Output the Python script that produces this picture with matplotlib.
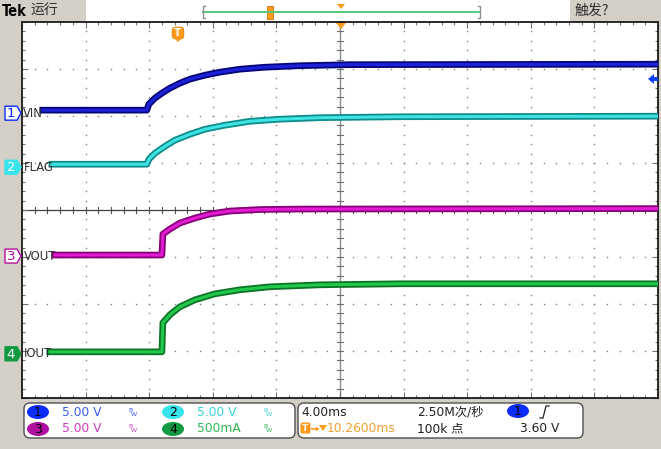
import matplotlib
matplotlib.use('Agg')
import matplotlib.pyplot as plt
import numpy as np
from matplotlib.patches import Polygon, FancyBboxPatch, Rectangle, Ellipse
import matplotlib.patheffects as pe

# ---------------- data (time in ms relative to trigger) ----------------
vin_t = [-8.43, -1.89, -1.76, -1.38, -0.94, -0.44, 0.19, 0.82, 1.76, 2.70, 3.96, 5.53, 7.74, 10.88, 30.25]
vin_v = [0.32, 0.32, 0.96, 1.60, 2.13, 2.66, 3.19, 3.62, 4.04, 4.36, 4.68, 4.89, 5.05, 5.16, 5.21]

flag_t = [-7.86, -1.89, -1.76, -1.38, -0.75, -0.13, 0.82, 1.76, 3.02, 4.59, 6.48, 8.99, 14.03, 30.25]
flag_v = [0.32, 0.32, 0.85, 1.49, 2.23, 2.87, 3.51, 4.04, 4.47, 4.89, 5.11, 5.27, 5.37, 5.43]

vout_t = [-7.67, -0.94, -0.88, -0.44, 0.19, 1.13, 2.08, 3.33, 5.22, 7.74, 30.25]
vout_v = [0.11, 0.11, 2.34, 2.87, 3.51, 4.04, 4.47, 4.79, 4.95, 5.00, 5.05]

iout_t = [-7.99, -0.94, -0.88, -0.44, 0.19, 1.13, 2.39, 3.96, 5.85, 8.99, 14.03, 30.25]
iout_a = [0.021, 0.021, 0.33, 0.415, 0.50, 0.574, 0.638, 0.681, 0.713, 0.734, 0.745, 0.745]

channel_names = ['VIN', 'FLAG', 'VOUT', 'IOUT']
channel_scales = [5.0, 5.0, 5.0, 0.5]          # units per division
channel_offsets = [6.06, 4.91, 3.02, 0.94]     # ground marker position (div)
channel_scale_labels = ['5.00 V', '5.00 V', '5.00 V', '500mA']
time_per_div = 4.0    # ms
horiz_delay = 10.26   # ms
record_rate = '2.50M次/秒'
record_len = '100k 点'
trig_level = '3.60 V'

core_cols = ['#1c22d8', '#3fe3e3', '#e21cd2', '#22c84a']
edge_cols = ['#06067a', '#0f8c8c', '#860078', '#0c7426']
text_cols = ['#3a5cf0', '#38d4dc', '#d03cc4', '#2fb44e']
fill_cols = ['#0a2cff', '#38e4ec', '#b0109f', '#129a42']

W, H = 661, 449
L, R, T, B = 22, 658, 22, 398
BG = '#d4d0c8'

fig = plt.figure(figsize=(W / 100, H / 100), dpi=100)
fig.patch.set_facecolor(BG)

CJK = ['DejaVu Sans', 'Noto Sans CJK SC']
CJK2 = ['Noto Sans CJK SC', 'DejaVu Sans']

# background layer (top bar)
bg = fig.add_axes([0, 0, 1, 1], zorder=0)
bg.set_xlim(0, W); bg.set_ylim(H, 0); bg.axis('off')
bg.add_patch(Rectangle((86, 0), 484, 21, facecolor='white', edgecolor='none'))

# ---------------- data axes ----------------
ax = fig.add_axes([L / W, 1 - B / H, (R - L) / W, (B - T) / H], zorder=1)
ax.set_xlim(0, 10); ax.set_ylim(0, 8)
ax.set_facecolor('white')
for s in ax.spines.values():
    s.set_color('#1a1a1a'); s.set_linewidth(1.3)
ax.set_xticks(np.arange(0, 10.01, 1)); ax.set_yticks(np.arange(0, 8.01, 1))
ax.set_xticks(np.arange(0, 10.01, 0.2), minor=True)
ax.set_yticks(np.arange(0, 8.01, 0.2), minor=True)
ax.tick_params(which='both', direction='in', top=True, right=True,
               labelbottom=False, labelleft=False, color='#707070')
ax.tick_params(which='major', length=4, width=0.8)
ax.tick_params(which='minor', length=2.5, width=0.8)

# graticule dots
for xv in range(1, 10):
    if xv == 5:
        continue
    ys = np.arange(0, 8.01, 0.2)
    ax.plot([xv] * len(ys), ys, ls='none', marker='s', ms=1.0, mew=0, color='#808080')
for yv in range(1, 8):
    if yv == 4:
        continue
    xs = np.arange(0, 10.01, 0.2)
    ax.plot(xs, [yv] * len(xs), ls='none', marker='s', ms=1.0, mew=0, color='#808080')

ax.axvline(5, color='#8a8a8a', lw=1.0, zorder=1)
ax.axhline(4, color='#404040', lw=0.9, zorder=1)
for yy in np.arange(0, 8.01, 0.2):
    ax.plot([4.95, 5.05], [yy, yy], color='#707070', lw=0.8)
for xx in np.arange(0, 10.01, 0.2):
    ax.plot([xx, xx], [3.94, 4.06], color='#505050', lw=0.8)

t_left = horiz_delay - 5 * time_per_div
series = [(vin_t, vin_v), (flag_t, flag_v), (vout_t, vout_v), (iout_t, iout_a)]
for i, (tt, vv) in enumerate(series):
    xd = [(t - t_left) / time_per_div for t in tt]
    yd = [channel_offsets[i] + v / channel_scales[i] for v in vv]
    ax.plot(xd, yd, color=core_cols[i], lw=2.2, solid_joinstyle='round', zorder=3,
            path_effects=[pe.Stroke(linewidth=4.8, foreground=edge_cols[i]), pe.Normal()])

# ---------------- overlay ----------------
ov = fig.add_axes([0, 0, 1, 1], zorder=5)
ov.set_xlim(0, W); ov.set_ylim(H, 0); ov.axis('off'); ov.patch.set_alpha(0)

# top bar
ov.text(2, 11, 'Tek', fontsize=10.5, fontweight='bold', va='center', ha='left',
        color='black', family='DejaVu Sans', fontstretch='condensed')
ov.text(30, 11, '运行', fontsize=10, va='center', ha='left', color='#303030', family=CJK2)
bg.add_patch(Rectangle((570, 0), 91, 21, facecolor=BG, edgecolor='none'))
ov.text(575, 11, '触发?', fontsize=10, va='center', ha='left', color='#303030', family=CJK2)

# record view bar
ov.plot([203, 480], [12, 12], color='#58c878', lw=1.4)
ov.plot([205, 203, 203, 205], [6, 6, 18, 18], color='#909090', lw=1.0)
ov.plot([478, 480, 480, 478], [6, 6, 18, 18], color='#909090', lw=1.0)
ov.add_patch(Rectangle((267, 6), 6, 13, facecolor='#ff9a1a', edgecolor='#d07000', lw=0.6))
ov.add_patch(Polygon([(337, 4), (345, 4), (341, 9)], closed=True, facecolor='#ff9a1a', edgecolor='none'))

# trigger position markers in plot
ov.add_patch(Polygon([(336, 23), (346, 23), (341, 29)], closed=True, facecolor='#ff9a1a', edgecolor='none'))
ov.add_patch(FancyBboxPatch((173, 28), 10, 10, boxstyle='round,pad=0.8,rounding_size=3',
                            facecolor='#ff9a1a', edgecolor='#e08000', lw=0.6))
ov.add_patch(Polygon([(175, 39), (181, 39), (178, 42)], closed=True, facecolor='#ff9a1a', edgecolor='none'))
ov.text(178, 33.5, 'T', fontsize=7.5, fontweight='bold', color='white', ha='center', va='center')

# trigger level arrow (right)
ov.add_patch(Polygon([(648, 79), (654, 74), (654, 77), (658, 77), (658, 81), (654, 81), (654, 84)],
                     closed=True, facecolor='#1040ff', edgecolor='none'))

# channel markers and labels
marker_y = [B - o * (B - T) / 8 for o in channel_offsets]
label_x = [23, 24, 24, 24]
filled = [False, True, False, True]
for i in range(4):
    y = marker_y[i]
    poly = [(5, y - 7), (17, y - 7), (21, y), (17, y + 7), (5, y + 7)]
    if filled[i]:
        ov.add_patch(Polygon(poly, closed=True, facecolor=fill_cols[i], edgecolor=fill_cols[i], lw=1))
        ov.text(11, y + 0.5, str(i + 1), fontsize=9.5, color='white', ha='center', va='center')
    else:
        ov.add_patch(Polygon(poly, closed=True, facecolor='white', edgecolor=fill_cols[i], lw=1))
        ov.text(11, y + 0.5, str(i + 1), fontsize=9.5, color=fill_cols[i], ha='center', va='center')
    ov.text(label_x[i], y, channel_names[i], fontsize=9.3, color='#303030', ha='left', va='center',
            fontstretch='condensed')

# bottom panels
ov.add_patch(FancyBboxPatch((24, 403), 271, 35, boxstyle='round,pad=0,rounding_size=6',
                            facecolor='white', edgecolor='#505050', lw=1.0))
ov.add_patch(FancyBboxPatch((298, 403), 285, 35, boxstyle='round,pad=0,rounding_size=6',
                            facecolor='white', edgecolor='#505050', lw=1.0))

rows = [412, 429]
pos = [(38, 0), (173, 0), (38, 1), (173, 1)]
for i in range(4):
    cx, r = pos[i]
    cy = rows[r]
    ov.add_patch(Ellipse((cx, cy), 22, 14, facecolor=fill_cols[i], edgecolor='none'))
    ov.text(cx, cy + 0.5, str(i + 1), fontsize=9, color='black', ha='center', va='center')
    ov.text(cx + 24, cy, channel_scale_labels[i], fontsize=8.8, color=text_cols[i],
            ha='left', va='center')
    ov.text(cx + 90, cy - 2, 'B', fontsize=4.5, color=text_cols[i], ha='left', va='center')
    ov.text(cx + 93, cy + 2, 'W', fontsize=4.5, color=text_cols[i], ha='left', va='center')

ov.text(301, 412, '%.2fms' % time_per_div, fontsize=8.8, color='#202020', ha='left', va='center')
ov.text(417, 412, record_rate, fontsize=8.8, color='#202020', ha='left', va='center', family=CJK)
ov.add_patch(Ellipse((518, 411), 22, 14, facecolor='#0a2cff', edgecolor='none'))
ov.text(518, 411.5, '1', fontsize=9, color='black', ha='center', va='center')
ov.plot([540, 543, 546, 549], [418, 418, 406, 406], color='#202020', lw=0.9)

ov.add_patch(FancyBboxPatch((301, 423), 9, 10, boxstyle='round,pad=0.5,rounding_size=2',
                            facecolor='#ff9a1a', edgecolor='none'))
ov.text(305.5, 428.5, 'T', fontsize=6.5, fontweight='bold', color='white', ha='center', va='center')
ov.plot([312, 318], [429, 429], color='#ff9a1a', lw=1.2)
ov.add_patch(Polygon([(316, 426.5), (319, 429), (316, 431.5)], closed=True, facecolor='#ff9a1a', edgecolor='none'))
ov.add_patch(Polygon([(319, 425), (327, 425), (323, 431)], closed=True, facecolor='#ff9a1a', edgecolor='none'))
ov.text(327, 429, '%.4fms' % horiz_delay, fontsize=8.8, color='#f0a030', ha='left', va='center')
ov.text(417, 429, record_len, fontsize=8.8, color='#202020', ha='left', va='center', family=CJK)
ov.text(520, 429, trig_level, fontsize=8.8, color='#202020', ha='left', va='center')

fig.savefig('out.png', dpi=100, facecolor=fig.get_facecolor())
